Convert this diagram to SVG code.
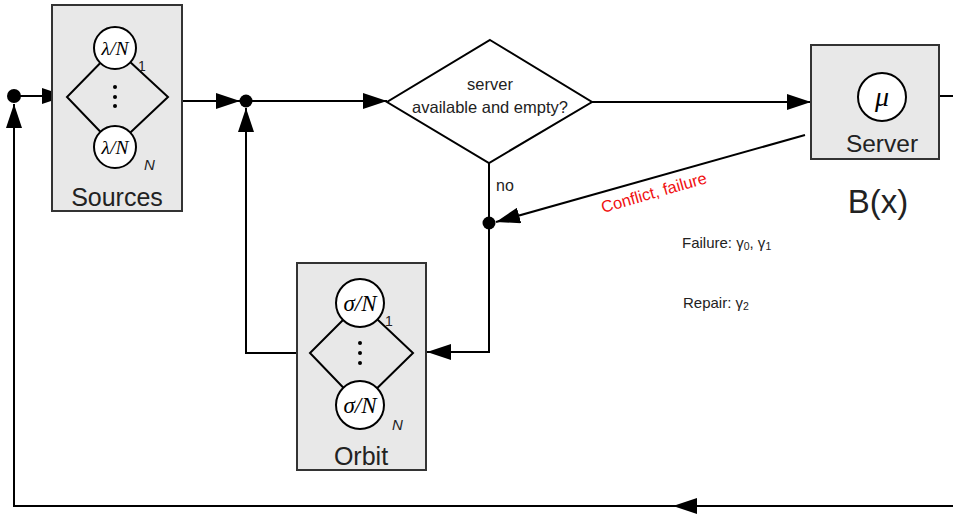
<svg xmlns="http://www.w3.org/2000/svg" width="953" height="516" viewBox="0 0 953 516">
<style>
.box{fill:#e8e8e8;stroke:#333;stroke-width:2}
.ln{fill:none;stroke:#000;stroke-width:2}
.circ{fill:#fff;stroke:#000;stroke-width:2}
.dot{fill:#000}
.math{font-family:"Liberation Serif",serif;font-style:italic;text-anchor:middle;fill:#000}
.lbl{font-family:"Liberation Sans",Arial,sans-serif;fill:#222}
.sub{font-family:"Liberation Sans",Arial,sans-serif;font-size:14px;fill:#222}
.subi{font-family:"Liberation Sans",Arial,sans-serif;font-size:15px;font-style:italic;fill:#222}
</style>
<defs>
<marker id="ah" viewBox="0 0 24 16" refX="24" refY="8" markerWidth="24" markerHeight="16" orient="auto" markerUnits="userSpaceOnUse">
<path d="M0,0 L24,8 L0,16 z" fill="#000"/>
</marker>
</defs>
<g id="connectors">
<path class="ln" d="M953,506 H673" marker-end="url(#ah)"/>
<path class="ln" d="M675,506 H14 V104" marker-end="url(#ah)"/>
<path class="ln" d="M14,96 H66" marker-end="url(#ah)"/>
<path class="ln" d="M182,101 H240" marker-end="url(#ah)"/>
<path class="ln" d="M246,101 H387" marker-end="url(#ah)"/>
<path class="ln" d="M592,102 H811" marker-end="url(#ah)"/>
<path class="ln" d="M939,96 H953"/>
<path class="ln" d="M489,163 V352 H427" marker-end="url(#ah)"/>
<path class="ln" d="M310,353 H246 V108" marker-end="url(#ah)"/>
<path class="ln" d="M805,135 L496,222" marker-end="url(#ah)"/>
<circle class="dot" cx="14" cy="96" r="7"/>
<circle class="dot" cx="246" cy="101" r="6.5"/>
<circle class="dot" cx="489" cy="223" r="6.5"/>
<text class="lbl" x="496" y="191" font-size="16">no</text>
<text class="lbl" x="603" y="213" font-size="16.5" style="fill:#f01010" transform="rotate(-16 603 213)">Conflict, failure</text>
</g>
<g id="sources">
<rect class="box" x="52" y="5" width="130" height="206"/>
<path class="ln" d="M115,48 L67,97 L115,147 M115,48 L168,97 L115,147"/>
<circle class="circ" cx="115" cy="48" r="21"/>
<circle class="circ" cx="115" cy="147" r="21"/>
<text class="math" x="115" y="55" font-size="19.5">λ/N</text>
<text class="math" x="115" y="154" font-size="19.5">λ/N</text>
<circle class="dot" cx="115" cy="87" r="2"/>
<circle class="dot" cx="115" cy="97" r="2"/>
<circle class="dot" cx="115" cy="106" r="2"/>
<text class="sub" x="138" y="71">1</text>
<text class="subi" x="144" y="170">N</text>
<text class="lbl" x="117" y="206" font-size="25" text-anchor="middle">Sources</text>
</g>
<g id="decision">
<polygon points="490,40 592,102 489,163 387,102" fill="#fff" stroke="#000" stroke-width="2"/>
<text class="lbl" x="490" y="90" font-size="16.5" text-anchor="middle">server</text>
<text class="lbl" x="490" y="113" font-size="16.5" text-anchor="middle">available and empty?</text>
</g>
<g id="server">
<rect class="box" x="811" y="45" width="128" height="114"/>
<circle class="circ" cx="882" cy="97" r="24"/>
<text class="math" x="882" y="106" font-size="28">μ</text>
<text class="lbl" x="882" y="152" font-size="24.5" text-anchor="middle">Server</text>
</g>
<g id="bx">
<text class="lbl" x="878" y="213" font-size="33" text-anchor="middle">B(x)</text>
</g>
<g id="rates">
<text class="lbl" x="682" y="248" font-size="15">Failure: γ<tspan font-size="10.5" dy="2">0</tspan><tspan dy="-2">, γ</tspan><tspan font-size="10.5" dy="2">1</tspan></text>
<text class="lbl" x="683" y="308" font-size="15">Repair:  γ<tspan font-size="10.5" dy="2">2</tspan></text>
</g>
<g id="orbit">
<rect class="box" x="297" y="263" width="129" height="207"/>
<path class="ln" d="M360,303 L310,353 L360,405 M360,303 L413,353 L360,405"/>
<circle class="circ" cx="360" cy="303" r="24"/>
<circle class="circ" cx="360" cy="405" r="24"/>
<text class="math" x="360" y="311" font-size="23">σ/N</text>
<text class="math" x="360" y="413" font-size="23">σ/N</text>
<circle class="dot" cx="360" cy="343" r="2"/>
<circle class="dot" cx="360" cy="353" r="2"/>
<circle class="dot" cx="360" cy="363" r="2"/>
<text class="sub" x="385" y="326">1</text>
<text class="subi" x="392" y="430">N</text>
<text class="lbl" x="361" y="465" font-size="25" text-anchor="middle">Orbit</text>
</g>
</svg>
